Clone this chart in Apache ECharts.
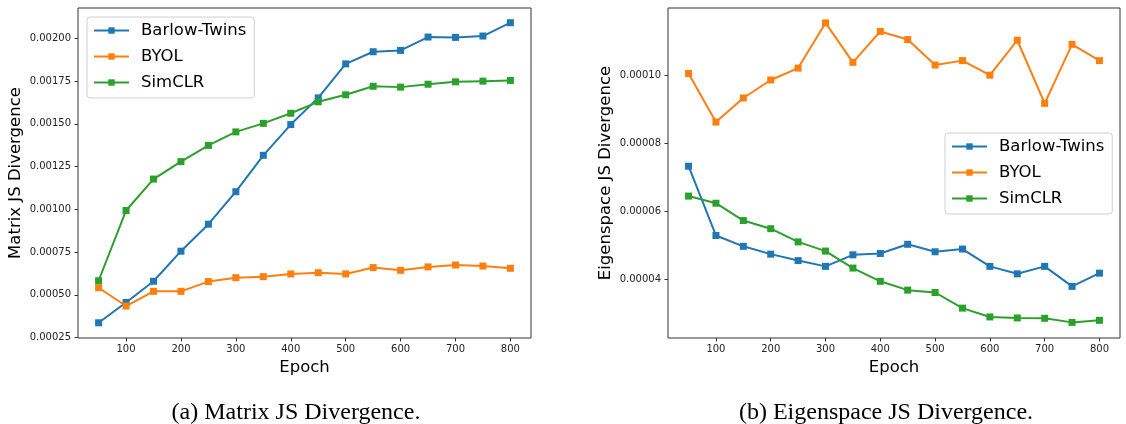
<!DOCTYPE html>
<html>
<head>
<meta charset="utf-8">
<script src="https://cdn.jsdelivr.net/npm/echarts@6/dist/echarts.min.js"></script>
<style>
	html, body { margin: 0; padding: 0; background: #fff; }
	#chart { width: 1126px; height: 424px; }
</style>
</head>
<body>
<div id="chart"></div>
<script>
// data
var epochs = [50, 100, 150, 200, 250, 300, 350, 400, 450, 500, 550, 600, 650, 700, 750, 800];
var names = ['Barlow-Twins', 'BYOL', 'SimCLR'];

// (a) matrix JS divergence
var matBarlow = [0.000336, 0.000455, 0.000579, 0.000755, 0.000913, 0.001103, 0.001316, 0.001496, 0.001652, 0.001851, 0.001922, 0.001930, 0.002008, 0.002006, 0.002014, 0.002092];
var matByol = [0.000541, 0.000434, 0.000520, 0.000520, 0.000577, 0.000600, 0.000606, 0.000622, 0.000629, 0.000622, 0.000659, 0.000643, 0.000663, 0.000674, 0.000668, 0.000655];
var matSimclr = [0.000582, 0.000993, 0.001177, 0.001279, 0.001374, 0.001453, 0.001503, 0.001562, 0.001629, 0.001670, 0.001720, 0.001715, 0.001732, 0.001746, 0.001750, 0.001754];

// (b) eigenspace JS divergence
var eigBarlow = [0.0000732, 0.0000528, 0.0000496, 0.0000473, 0.0000454, 0.0000437, 0.0000471, 0.0000475, 0.0000502, 0.0000480, 0.0000488, 0.0000437, 0.0000415, 0.0000437, 0.0000378, 0.0000417];
var eigByol = [0.0001005, 0.0000862, 0.0000933, 0.0000986, 0.0001021, 0.0001154, 0.0001038, 0.0001129, 0.0001105, 0.0001030, 0.0001043, 0.0001000, 0.0001103, 0.0000917, 0.0001091, 0.0001043];
var eigSimclr = [0.0000644, 0.0000623, 0.0000572, 0.0000548, 0.0000509, 0.0000482, 0.0000432, 0.0000393, 0.0000367, 0.0000360, 0.0000314, 0.0000288, 0.0000285, 0.0000284, 0.0000272, 0.0000278];

// tick labels
var xTicks = [100, 200, 300, 400, 500, 600, 700, 800];
var matTicks = [0.00025, 0.0005, 0.00075, 0.001, 0.00125, 0.0015, 0.00175, 0.002];
var eigTicks = [0.00004, 0.00006, 0.00008, 0.0001];

var colors = ['#1f77b4', '#ff7f0e', '#2ca02c'];
var font = 'DejaVu Sans';

function pairs(vals) {
	return epochs.map(function(e, i) { return [e, vals[i]]; });
}

function xAxisOf(idx) {
	return {
		type: 'value',
		gridIndex: idx,
		min: 12.5,
		max: 837.5,
		name: 'Epoch',
		nameLocation: 'middle',
		nameGap: 20,
		nameTextStyle: { fontFamily: font, fontSize: 16.5, color: '#000' },
		axisLine: { show: false },
		axisTick: { show: true, length: 3.5, lineStyle: { color: '#333' }, customValues: xTicks },
		axisLabel: { margin: 6, fontFamily: font, fontSize: 10, color: '#222', customValues: xTicks },
		splitLine: { show: false }
	};
}

function yAxisOf(idx, name, min, max, ticks) {
	return {
		type: 'value',
		gridIndex: idx,
		min: min,
		max: max,
		name: name,
		nameLocation: 'middle',
		nameGap: 54,
		nameTextStyle: { fontFamily: font, fontSize: 16.5, color: '#000' },
		axisLine: { show: false },
		axisTick: { show: true, length: 3.5, lineStyle: { color: '#333' }, customValues: ticks },
		axisLabel: {
			margin: 7, fontFamily: font, fontSize: 10, color: '#222', customValues: ticks,
			formatter: function(v) { return v.toFixed(5); }
		},
		splitLine: { show: false }
	};
}

function lineOf(name, idx, vals, color) {
	return {
		name: name,
		type: 'line',
		xAxisIndex: idx,
		yAxisIndex: idx,
		data: pairs(vals),
		symbol: 'rect',
		symbolSize: 7,
		showAllSymbol: true,
		animation: false,
		lineStyle: { color: color, width: 2 },
		itemStyle: { color: color }
	};
}

function legendOf(left, top) {
	return {
		orient: 'vertical',
		left: left,
		top: top,
		data: names,
		itemWidth: 35,
		itemHeight: 8,
		itemGap: 9,
		padding: [5, 8, 7, 6],
		backgroundColor: 'rgba(255,255,255,0.8)',
		borderColor: '#d0d0d0',
		borderWidth: 1,
		borderRadius: 3,
		textStyle: { fontFamily: font, fontSize: 16.5, color: '#000', lineHeight: 16, padding: [0, 0, 0, 7] }
	};
}

var option = {
	color: colors,
	animation: false,
	title: [{
		text: '(a) Matrix JS Divergence.',
		left: 291, top: 396, textAlign: 'center',
		textStyle: { fontFamily: 'Liberation Serif', fontSize: 24, fontWeight: 'normal', color: '#000' }
	}, {
		text: '(b) Eigenspace JS Divergence.',
		left: 881, top: 396, textAlign: 'center',
		textStyle: { fontFamily: 'Liberation Serif', fontSize: 24, fontWeight: 'normal', color: '#000' }
	}],
	grid: [
		{ left: 78, top: 8, width: 453, height: 330, show: true, borderColor: '#333', borderWidth: 1 },
		{ left: 668, top: 8, width: 452, height: 330, show: true, borderColor: '#333', borderWidth: 1 }
	],
	legend: [legendOf(87, 17), legendOf(945, 133)],
	xAxis: [xAxisOf(0), xAxisOf(1)],
	yAxis: [
		yAxisOf(0, 'Matrix JS Divergence', 0.000247, 0.002178, matTicks),
		yAxisOf(1, 'Eigenspace JS Divergence', 0.0000226, 0.0001198, eigTicks)
	],
	series: [
		lineOf(names[0], 0, matBarlow, colors[0]),
		lineOf(names[1], 0, matByol, colors[1]),
		lineOf(names[2], 0, matSimclr, colors[2]),
		lineOf(names[0], 1, eigBarlow, colors[0]),
		lineOf(names[1], 1, eigByol, colors[1]),
		lineOf(names[2], 1, eigSimclr, colors[2])
	]
};

var chart = echarts.init(document.getElementById('chart'));
chart.setOption(option);
</script>
</body>
</html>
